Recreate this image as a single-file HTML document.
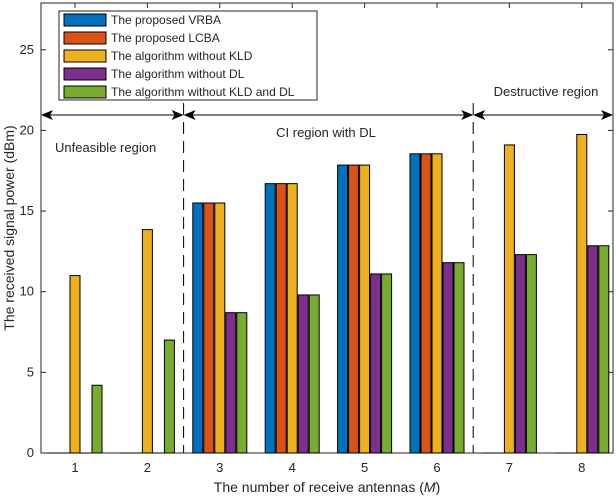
<!DOCTYPE html>
<html><head><meta charset="utf-8"><style>
body{margin:0;background:#fff}
svg text{font-family:"Liberation Sans",Arial,sans-serif;fill:#262626}
</style></head><body>
<svg id="c" width="616" height="498" xmlns="http://www.w3.org/2000/svg"></svg>
<script>
const categories=[1,2,3,4,5,6,7,8];
const vrba=[0,0,15.5,16.7,17.85,18.55,0,0];
const lcba=[0,0,15.5,16.7,17.85,18.55,0,0];
const noKLD=[11.0,13.85,15.5,16.7,17.85,18.55,19.1,19.75];
const noDL=[0,0,8.7,9.8,11.1,11.8,12.3,12.85];
const noBoth=[4.2,7.0,8.7,9.8,11.1,11.8,12.3,12.85];
const yTicks=[0,5,10,15,20,25];
const seriesNames=["The proposed VRBA","The proposed LCBA","The algorithm without KLD","The algorithm without DL","The algorithm without KLD and DL"];
const colors=["#0072BD","#D95319","#EDB120","#7E2F8E","#77AC30"];
const series=[vrba,lcba,noKLD,noDL,noBoth];
const L=41,R=613,T=3,B=453;
const X=v=>75+(v-1)*72.4;
const Y=v=>B-v*(B-T)/27.9;
const svg=document.getElementById('c');
const NS="http://www.w3.org/2000/svg";
function mk(t,a,p){const e=document.createElementNS(NS,t);for(const k in a)e.setAttribute(k,a[k]);(p||svg).appendChild(e);return e;}
// axes box
let ax=mk('rect',{x:L,y:T,width:R-L,height:B-T,fill:'#fff',stroke:'#262626','stroke-width':1});


yTicks.forEach(v=>{
  mk('line',{x1:L,x2:L+5,y1:Y(v),y2:Y(v),stroke:'#262626'});
  mk('line',{x1:R,x2:R-5,y1:Y(v),y2:Y(v),stroke:'#262626'});
  const t=mk('text',{x:L-7,y:Y(v)+4,'text-anchor':'end','font-size':13});t.textContent=v;
  
  
});
categories.forEach(c=>{
  mk('line',{x1:X(c),x2:X(c),y1:B,y2:B-5,stroke:'#262626'});
  mk('line',{x1:X(c),x2:X(c),y1:T,y2:T+5,stroke:'#262626'});
  const t=mk('text',{x:X(c),y:B+19,'text-anchor':'middle','font-size':13});t.textContent=c;
  
  
});
// bars
const bw=10,step=11;
categories.forEach((c,i)=>{
  series.forEach((s,j)=>{
    const v=s[i];
    const x=X(c)+(j-2)*step-bw/2;
    const r=mk('rect',{x:x,y:Y(v),width:bw,height:Math.max(B-Y(v),0.01),fill:colors[j],stroke:'#000','stroke-width':1});
    
    
  });
});
// dashed separators
[2.5,6.5].forEach(v=>{
  const l=mk('line',{x1:X(v),x2:X(v),y1:103,y2:B,stroke:'#000','stroke-dasharray':'12,7'});
  
  
});
// arrows
const ay=115;
function arrow(x1,x2){mk('line',{x1:x1+4,x2:x2-4,y1:ay,y2:ay,stroke:'#000'});
 mk('path',{d:`M${x1} ${ay} l12 -5 l-3 5 l3 5z`,fill:'#000'});
 mk('path',{d:`M${x2} ${ay} l-12 -5 l3 5 l-3 5z`,fill:'#000'});}
arrow(L,X(2.5));arrow(X(2.5),X(6.5));arrow(X(6.5),R);
[[55,152,'Unfeasible region','start'],[326,137,'CI region with DL','middle'],[546,96,'Destructive region','middle']].forEach(a=>{
  const t=mk('text',{x:a[0],y:a[1],'text-anchor':a[3],'font-size':13});t.textContent=a[2];
  
  
});
// legend
const lg=mk('g',{});


mk('rect',{x:59,y:11,width:258,height:89,fill:'#fff',stroke:'#262626'},lg);
seriesNames.forEach((n,j)=>{
  const y=20+j*18;
  mk('rect',{x:64,y:y-6,width:42,height:12,fill:colors[j],stroke:'#000'},lg);
  const t=mk('text',{x:111,y:y+4,'font-size':12},lg);t.textContent=n;
  
  
});
const xt=mk('text',{x:327,y:492,'text-anchor':'middle','font-size':14});
xt.innerHTML='The number of receive antennas (<tspan font-style="italic">M</tspan>)';


const yt=mk('text',{x:0,y:0,'text-anchor':'middle','font-size':14,transform:`translate(14,${(T+B)/2}) rotate(-90)`});
yt.textContent='The received signal power (dBm)';


</script>
</body></html>
